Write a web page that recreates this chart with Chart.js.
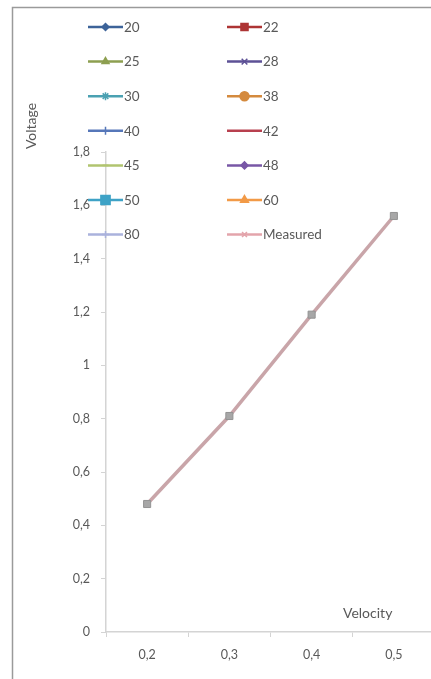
<!DOCTYPE html>
<html>
<head>
<meta charset="utf-8">
<script src="https://cdn.jsdelivr.net/npm/chart.js@4.4.1/dist/chart.umd.min.js"></script>
<style>
  html, body { margin: 0; padding: 0; background: #ffffff; overflow: hidden; }
  #wrap { position: relative; width: 431px; height: 679px; overflow: hidden; }
  canvas { display: block; }
</style>
</head>
<body>
<div id="wrap"><canvas id="c" width="441" height="679"></canvas></div>
<script>
// Velocity categories on the x axis
const velocity = ['0,2', '0,3', '0,4', '0,5'];

// Series names shown in the legend
const seriesNames = ['20', '22', '25', '28', '30', '38', '40', '42', '45', '48', '50', '60', '80', 'Measured'];

// Voltage per velocity for each series
const v20 = [0.48, 0.81, 1.19, 1.56];
const v22 = [0.48, 0.81, 1.19, 1.56];
const v25 = [0.48, 0.81, 1.19, 1.56];
const v28 = [0.48, 0.81, 1.19, 1.56];
const v30 = [0.48, 0.81, 1.19, 1.56];
const v38 = [0.48, 0.81, 1.19, 1.56];
const v40 = [0.48, 0.81, 1.19, 1.56];
const v42 = [0.48, 0.81, 1.19, 1.56];
const v45 = [0.48, 0.81, 1.19, 1.56];
const v48 = [0.48, 0.81, 1.19, 1.56];
const v50 = [0.48, 0.81, 1.19, 1.56];
const v60 = [0.48, 0.81, 1.19, 1.56];
const v80 = [0.48, 0.81, 1.19, 1.56];
const measured = [0.48, 0.81, 1.19, 1.56];
const seriesValues = [v20, v22, v25, v28, v30, v38, v40, v42, v45, v48, v50, v60, v80, measured];

// Styling
const lineColors = ['#3d6399', '#ad3434', '#8d9f50', '#5d5196', '#4ba1b2', '#d48a3e', '#5677b9', '#b8404f',
                    '#b1c46f', '#7857a6', '#3ea2c6', '#f29a47', '#aab2dc', '#e3a4ab'];
const markerStyles = ['rectRot', 'rect', 'triangle', 'crossRot', 'star', 'circle', 'cross', 'line',
                      'line', 'rectRot', 'rect', 'triangle', 'cross', 'crossRot'];
const markerSizes = [3.5, 5, 4, 4, 4, 4.5, 4, 4, 3, 3.5, 6.5, 4.5, 3.5, 3.5];

const FONT = 'Lato, "Open Sans", "DejaVu Sans", sans-serif';
const TEXT = '#595959';
const AXIS = '#d4d4d4';

const datasets = seriesNames.map((name, i) => {
  const top = name === 'Measured';
  return {
    label: name,
    data: seriesValues[i],
    borderColor: top ? '#c9a5a9' : lineColors[i],
    borderWidth: top ? 3.5 : 1,
    pointStyle: 'rect',
    pointRadius: top ? 5 : 0,
    pointBackgroundColor: '#a7a7a7',
    pointBorderColor: '#939393',
    pointBorderWidth: 1,
    tension: 0,
    fill: false,
    order: top ? 0 : i + 1
  };
});

// Frame, axis titles and a two-column legend laid over the plot
const overlay = {
  id: 'overlay',
  beforeDraw(chart) {
    const ctx = chart.ctx;
    ctx.save();
    ctx.fillStyle = '#ffffff';
    ctx.fillRect(0, 0, chart.width, chart.height);
    ctx.strokeStyle = '#9a9a9a';
    ctx.lineWidth = 1.5;
    ctx.beginPath();
    ctx.moveTo(12.5, chart.height);
    ctx.lineTo(12.5, 7.5);
    ctx.lineTo(chart.width, 7.5);
    ctx.stroke();
    ctx.restore();
  },
  afterDraw(chart) {
    const ctx = chart.ctx;
    ctx.save();
    ctx.fillStyle = TEXT;
    ctx.font = '14px ' + FONT;
    ctx.textBaseline = 'middle';
    ctx.textAlign = 'left';
    ctx.fillText('Velocity', 343, 613);

    ctx.save();
    ctx.translate(31, 126);
    ctx.rotate(-Math.PI / 2);
    ctx.textAlign = 'center';
    ctx.fillText('Voltage', 0, 0);
    ctx.restore();

    seriesNames.forEach((name, i) => {
      const col = i % 2, row = Math.floor(i / 2);
      const x0 = col === 0 ? 88 : 227;
      const y = 27 + row * 34.6;
      const color = lineColors[i];
      ctx.strokeStyle = color;
      ctx.lineWidth = 2.5;
      ctx.beginPath();
      ctx.moveTo(x0, y);
      ctx.lineTo(x0 + 35, y);
      ctx.stroke();
      ctx.fillStyle = color;
      ctx.strokeStyle = color;
      ctx.lineWidth = 1.5;
      Chart.helpers.drawPoint(ctx, {
        pointStyle: markerStyles[i], radius: markerSizes[i], rotation: 0, borderWidth: 1.5
      }, x0 + 17.5, y);
      ctx.fillStyle = TEXT;
      ctx.font = '13.5px ' + FONT;
      ctx.fillText(name, x0 + 36, y + 0.5);
    });
    ctx.restore();
  }
};

new Chart(document.getElementById('c'), {
  type: 'line',
  data: { labels: velocity, datasets },
  options: {
    responsive: false,
    animation: false,
    devicePixelRatio: 1,
    layout: { padding: { top: 152, right: 0, bottom: 0, left: 0 } },
    plugins: { legend: { display: false }, tooltip: { enabled: false } },
    scales: {
      x: {
        type: 'category',
        offset: true,
        grid: { drawOnChartArea: false, drawTicks: true, tickLength: 5, color: AXIS, offset: true },
        border: { display: true, color: AXIS, width: 1.5 },
        ticks: { color: TEXT, font: { family: FONT, size: 12.5 }, padding: 10, maxRotation: 0 },
        afterFit: s => { s.height = 47; }
      },
      y: {
        min: 0,
        max: 1.8,
        grid: { drawOnChartArea: false, drawTicks: true, tickLength: 5, color: AXIS },
        border: { display: true, color: AXIS, width: 1.5 },
        ticks: {
          stepSize: 0.2,
          color: TEXT,
          font: { family: FONT, size: 12.5 },
          padding: 11,
          callback: v => String(Math.round(v * 10) / 10).replace('.', ',')
        },
        afterFit: s => { s.width = 106; }
      }
    }
  },
  plugins: [overlay]
});
</script>
</body>
</html>
